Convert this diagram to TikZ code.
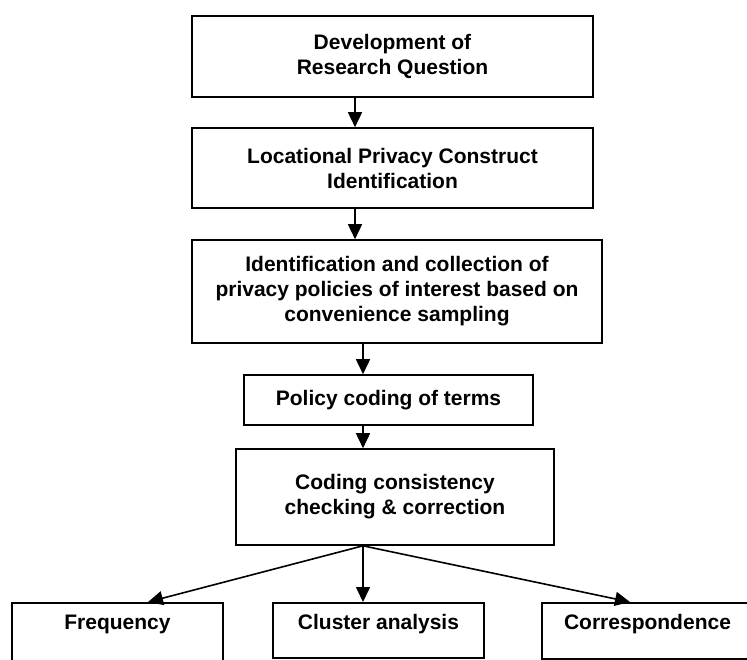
\documentclass[tikz,border=0pt]{standalone}
\usepackage{fontspec}
\setmainfont{Liberation Sans}
\usetikzlibrary{arrows.meta}
\begin{document}
\begin{tikzpicture}[x=1pt,y=-1pt,
  box/.style={draw=black, line width=1.6pt, rectangle, align=center,
    inner sep=2pt, font=\fontsize{21}{25}\selectfont\bfseries},
  leaf/.style={box, inner ysep=0pt, anchor=north, text height=26.5pt, minimum width=211pt},
  arr/.style={draw=black, line width=1.6pt, -{Triangle[length=15pt,width=14pt]}}]
\clip (0,0) rectangle (747,659);
\fill[white] (0,0) rectangle (747,659);

% main chain of steps
\node[box, minimum width=401pt, minimum height=81pt] (b1) at (392.5,56.5)
  {Development of\\Research Question};
\node[box, minimum width=401pt, minimum height=80pt] (b2) at (392.5,168)
  {Locational Privacy Construct\\Identification};
\node[box, minimum width=410pt, minimum height=103pt] (b3) at (397,291.5)
  {Identification and collection of\\privacy policies of interest based on\\convenience sampling};
\node[box, minimum width=289pt, minimum height=50pt] (b4) at (388.5,400)
  {Policy coding of terms};
\node[box, minimum width=318pt, minimum height=96pt] (b5) at (395,497)
  {Coding consistency\\checking \& correction};

% analysis boxes along the bottom
\node[leaf, text depth=33.5pt] (freq) at (117.5,602) {Frequency};
\node[leaf, text depth=28.5pt] (clus) at (378.5,602) {Cluster analysis};
\node[leaf, text depth=29.5pt] (corr) at (647.5,602) {Correspondence};

% vertical lines the arrows follow
\coordinate (upper) at (355,0);
\coordinate (lower) at (363,0);

\draw[arr] (b1.south -| upper) -- (b2.north -| upper);
\draw[arr] (b2.south -| upper) -- (b3.north -| upper);
\draw[arr] (b3.south -| lower) -- (b4.north -| lower);
\draw[arr] (b4.south -| lower) -- (b5.north -| lower);

\coordinate (fork) at (b5.south -| lower);
\draw[arr] (fork) -- ([xshift=30.5pt]freq.north);
\draw[arr] (fork) -- (clus.north -| lower);
\draw[arr] (fork) -- ([xshift=-17.5pt]corr.north);
\end{tikzpicture}
\end{document}
